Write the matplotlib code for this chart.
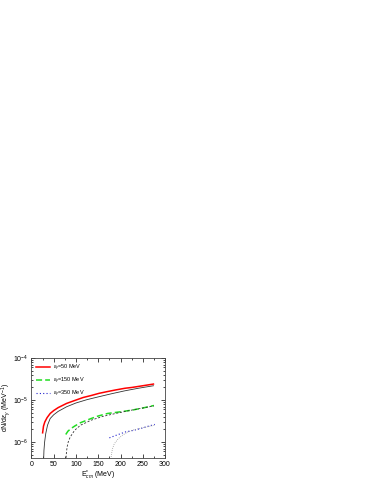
import numpy as np
import matplotlib
matplotlib.use("Agg")
import matplotlib.pyplot as plt
from matplotlib.ticker import LogLocator, MultipleLocator, NullFormatter

plt.rcParams['font.family'] = ['Liberation Sans', 'DejaVu Sans']
plt.rcParams['mathtext.fontset'] = 'custom'
plt.rcParams['mathtext.rm'] = 'Liberation Sans'
plt.rcParams['mathtext.it'] = 'Liberation Sans:italic'

# values, y as log10(dN/d eps)
x_red = [25, 27, 30, 35, 42, 50, 60, 79, 100, 116, 135, 152, 170, 189, 210, 226, 250, 274]
y_red = [-5.78, -5.62, -5.52, -5.42, -5.32, -5.25, -5.18, -5.08, -5.00, -4.94, -4.89, -4.84, -4.80, -4.76, -4.72, -4.70, -4.66, -4.62]

x_blk50 = [26.5, 27, 28, 29.5, 32, 36, 42, 50, 60, 79, 100, 125, 152, 180, 210, 240, 274]
y_blk50 = [-7.0, -6.5, -6.2, -6.0, -5.8, -5.6, -5.44, -5.35, -5.27, -5.16, -5.07, -4.99, -4.92, -4.85, -4.78, -4.72, -4.66]

x_green = [77, 82, 90, 97, 110, 134, 150, 171, 200, 226, 250, 275]
y_green = [-5.82, -5.74, -5.67, -5.62, -5.54, -5.44, -5.38, -5.32, -5.28, -5.24, -5.19, -5.13]

x_blk150 = [76.5, 77, 78.5, 80, 82.5, 87, 97, 110, 134, 160, 189, 220, 250, 275]
y_blk150 = [-7.0, -6.5, -6.25, -6.12, -6.0, -5.88, -5.72, -5.60, -5.48, -5.39, -5.32, -5.25, -5.19, -5.14]

x_blue = [175, 190, 211, 230, 245, 260, 277]
y_blue = [-5.90, -5.84, -5.76, -5.72, -5.68, -5.63, -5.58]

x_gray = [177.5, 178, 179.5, 182, 186, 195, 204, 215, 226, 250, 277]
y_gray = [-7.0, -6.5, -6.3, -6.16, -6.04, -5.92, -5.84, -5.77, -5.72, -5.66, -5.60]

labels = [r'$\varepsilon_\gamma$=50 MeV', r'$\varepsilon_\gamma$=150 MeV', r'$\varepsilon_\gamma$=350 MeV']

fig = plt.figure(figsize=(3.74, 4.84), dpi=100)
ax = fig.add_axes([0.0842, 0.0537, 0.357, 0.2066])

def p(v):
    return np.power(10.0, v)

ax.plot(x_red, p(y_red), color='red', lw=1.1, label=labels[0])
ax.plot(x_blk50, p(y_blk50), color='#333333', lw=0.6)
ax.plot(x_green, p(y_green), color='#22dd22', lw=1.1, ls=(0, (4, 2)), label=labels[1])
ax.plot(x_blk150, p(y_blk150), color='#333333', lw=0.6, ls=(0, (2.5, 2)))
ax.plot(x_blue, p(y_blue), color='#2222cc', lw=0.8, ls=(0, (1, 2)), label=labels[2])
ax.plot(x_gray, p(y_gray), color='#999999', lw=0.6, ls=(0, (1, 1.5)))

ax.set_yscale('log')
ax.set_xlim(0, 300)
ax.set_ylim(10 ** -6.38, 1e-4)
ax.xaxis.set_major_locator(MultipleLocator(50))
ax.xaxis.set_minor_locator(MultipleLocator(25))
ax.yaxis.set_major_locator(LogLocator(base=10, numticks=10))
ax.yaxis.set_minor_locator(LogLocator(base=10, subs=np.arange(2, 10), numticks=10))
ax.yaxis.set_minor_formatter(NullFormatter())
ax.tick_params(which='both', direction='in', top=True, right=True, labelsize=5, width=0.5, pad=2)
ax.tick_params(which='major', length=3)
ax.tick_params(which='minor', length=1.5)
for s in ax.spines.values():
    s.set_linewidth(0.6)
    s.set_color('#444444')

ax.set_xlabel(r'E$^{*}_{cm}$ (MeV)', fontsize=5)
ax.set_ylabel(r'dN/d$\varepsilon_\gamma$ (MeV$^{-1}$)', fontsize=5)
ax.xaxis.set_label_coords(0.5, -0.11)
ax.yaxis.set_label_coords(-0.14, 0.5)

ax.legend(loc='upper left', frameon=False, fontsize=4, handlelength=2.6, handletextpad=0.4,
          labelspacing=0.55, borderaxespad=0.5, borderpad=0.3)

fig.savefig('out.png', dpi=100)
